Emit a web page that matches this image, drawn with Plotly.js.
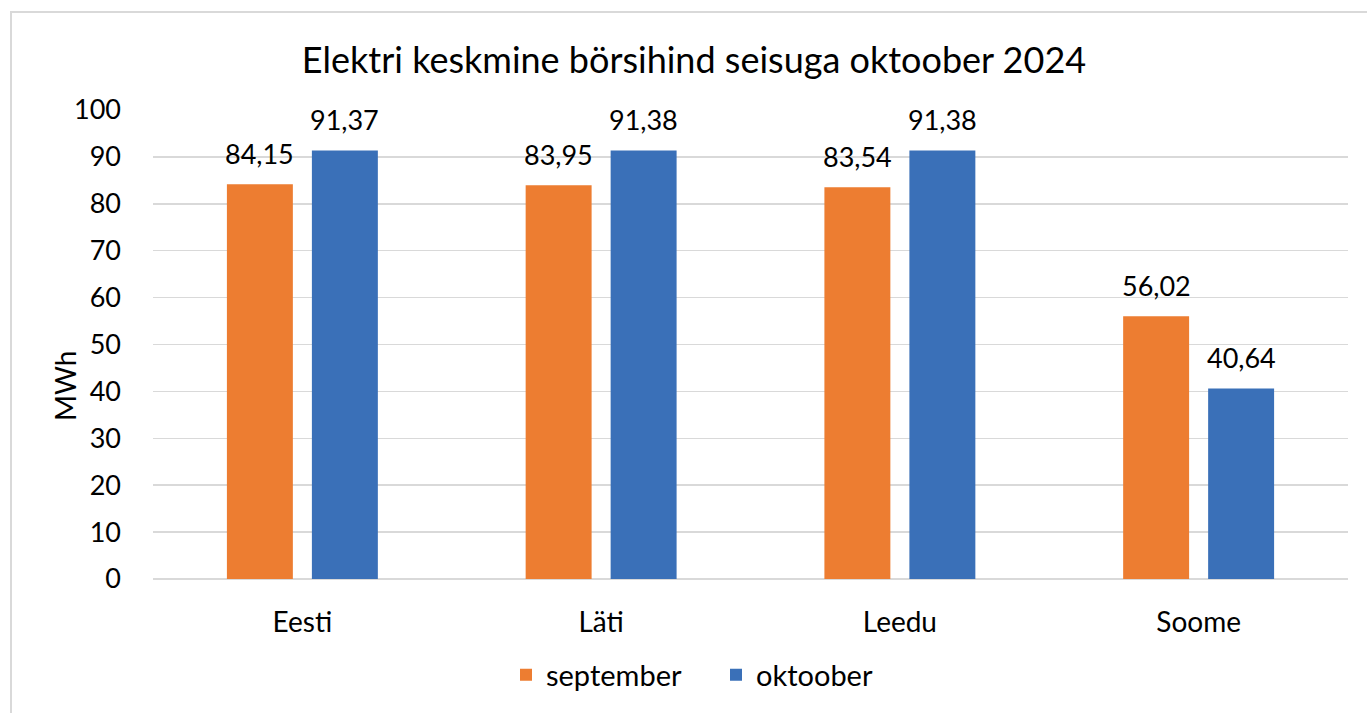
<!DOCTYPE html>
<html>
<head>
<meta charset="utf-8">
<script src="https://cdn.plot.ly/plotly-3.0.1.min.js"></script>
<style>
  html, body { margin: 0; padding: 0; background: #fff; overflow: hidden; }
  #chart { width: 1367px; height: 713px; }
  #frame { position: absolute; left: 10px; top: 11px; width: 1400px; height: 760px; border: 2px solid #d9d9d9; pointer-events: none; box-sizing: border-box; }
</style>
</head>
<body>
<div id="chart"></div>
<div id="frame"></div>
<script>
const categories = ["Eesti", "Läti", "Leedu", "Soome"];
const september = [84.15, 83.95, 83.54, 56.02];
const oktoober = [91.37, 91.38, 91.38, 40.64];
const yTicks = [0, 10, 20, 30, 40, 50, 60, 70, 80, 90, 100];

const fmt = v => v.toFixed(2).replace('.', ',');
const FONT = 'Lato, "Open Sans", sans-serif';

const traces = [
  {
    type: 'bar', name: 'september', x: categories, y: september,
    marker: { color: '#ED7D31' }, hoverinfo: 'none'
  },
  {
    type: 'bar', name: 'oktoober', x: categories, y: oktoober,
    marker: { color: '#3A70B8' }, hoverinfo: 'none'
  }
];

const labelFont = { family: FONT, size: 27, color: '#000' };
const annotations = [];
categories.forEach((c, i) => {
  annotations.push({ x: c, y: september[i], xref: 'x', yref: 'y', text: fmt(september[i]),
    showarrow: false, xshift: -42.5, yshift: 31, yanchor: 'middle', xanchor: 'center', font: labelFont });
  annotations.push({ x: c, y: oktoober[i], xref: 'x', yref: 'y', text: fmt(oktoober[i]),
    showarrow: false, xshift: 42.5, yshift: 31, yanchor: 'middle', xanchor: 'center', font: labelFont });
});
annotations.push({
  text: 'MWh', textangle: -90, showarrow: false,
  xref: 'paper', yref: 'paper', x: (65 - 153) / 1195, y: (579 - 386) / 469,
  xanchor: 'center', yanchor: 'middle',
  font: { family: FONT, size: 28, color: '#000' }
});

const layout = {
  width: 1367, height: 713,
  margin: { l: 153, r: 19, t: 110, b: 134 },
  paper_bgcolor: '#fff', plot_bgcolor: '#fff',
  font: { family: FONT, size: 27, color: '#000' },
  title: {
    text: 'Elektri keskmine börsihind seisuga oktoober 2024',
    font: { family: FONT, size: 36, color: '#000' },
    x: 694 / 1367, xanchor: 'center', xref: 'container',
    y: 1 - 60 / 713, yanchor: 'middle', yref: 'container'
  },
  barmode: 'group', bargap: 0.431, bargroupgap: 0.224,
  xaxis: {
    type: 'category', showgrid: false, showline: false, zeroline: false,
    ticks: '', tickfont: { family: FONT, size: 28, color: '#000' },
    ticklabelstandoff: 24
  },
  yaxis: {
    range: [0, 100], tickvals: yTicks, ticktext: yTicks.map(String),
    showgrid: true, gridcolor: '#d9d9d9', gridwidth: 1.5,
    zeroline: true, zerolinecolor: '#d9d9d9', zerolinewidth: 1.5,
    showline: false, ticks: '',
    tickfont: { family: FONT, size: 27, color: '#000' },
    ticklabelstandoff: 31
  },
  annotations: annotations,
  showlegend: true,
  legend: {
    orientation: 'h', x: 716 / 1367, xanchor: 'center', xref: 'container',
    y: 1 - 675 / 713, yanchor: 'middle', yref: 'container',
    font: { family: FONT, size: 29, color: '#000' },
    entrywidth: 165, entrywidthmode: 'pixels',
    itemsizing: 'constant', traceorder: 'normal'
  },
  hovermode: false
};

Plotly.newPlot('chart', traces, layout, { displayModeBar: false, staticPlot: true });
</script>
</body>
</html>
